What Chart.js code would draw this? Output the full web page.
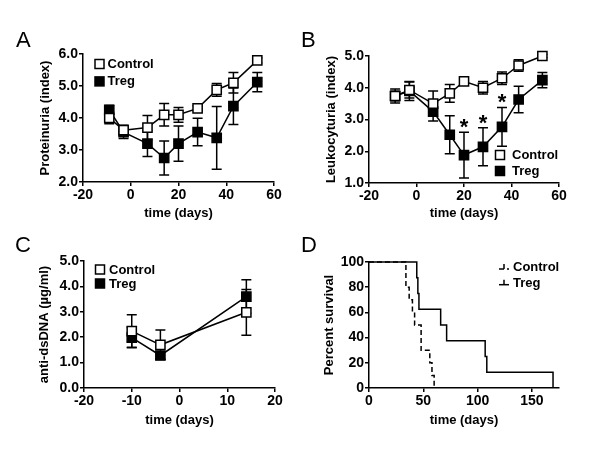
<!DOCTYPE html>
<html>
<head>
<meta charset="utf-8">
<script src="https://cdn.jsdelivr.net/npm/chart.js@4.4.0/dist/chart.umd.min.js"></script>
<style>
  html, body { margin: 0; padding: 0; background: #fff; }
  #wrap { position: relative; width: 600px; height: 460px; font-family: "Liberation Sans", Arial, sans-serif; }
  canvas { position: absolute; }
  .panel-label { position: absolute; font-size: 22px; line-height: 1; color: #000; }
</style>
</head>
<body>
<div id="wrap">
  <canvas id="chartA" width="300" height="230" style="left:0;top:0"></canvas>
  <canvas id="chartB" width="300" height="230" style="left:300px;top:0"></canvas>
  <canvas id="chartC" width="300" height="230" style="left:0;top:230px"></canvas>
  <canvas id="chartD" width="300" height="230" style="left:300px;top:230px"></canvas>
  <div class="panel-label" style="left:16px;top:29px">A</div>
  <div class="panel-label" style="left:301px;top:29px">B</div>
  <div class="panel-label" style="left:15px;top:234px">C</div>
  <div class="panel-label" style="left:301px;top:234px">D</div>
</div>
<script>
// A - proteinuria
const daysA = [-9, -3, 7, 14, 20, 28, 36, 43, 53];
const proteinControl = [4.0, 3.62, 3.7, 4.1, 4.1, 4.3, 4.88, 5.1, 5.8];
const proteinControlSem = [0.18, 0.15, 0.38, 0.35, 0.23, 0.08, 0.2, 0.32, 0.08];
const proteinTreg = [4.25, 3.56, 3.2, 2.75, 3.2, 3.56, 3.38, 4.37, 5.12];
const proteinTregSem = [0.15, 0.2, 0.4, 0.53, 0.55, 0.43, 0.98, 0.57, 0.3];

// B - leukocyturia
const daysB = [-9, -3, 7, 14, 20, 28, 36, 43, 53];
const leukoControl = [3.74, 3.93, 3.5, 3.82, 4.2, 4.0, 4.3, 4.7, 5.0];
const leukoControlSem = [0.15, 0.25, 0.4, 0.28, 0.07, 0.2, 0.2, 0.18, 0.05];
const leukoTreg = [3.74, 3.9, 3.25, 2.52, 1.88, 2.14, 2.77, 3.63, 4.24];
const leukoTregSem = [0.22, 0.3, 0.3, 0.6, 0.72, 0.6, 0.61, 0.42, 0.24];
const leukoSignificantDays = [20, 28, 36];

// C - anti-dsDNA
const daysC = [-10, -4, 14];
const dsdnaControl = [2.24, 1.7, 2.98];
const dsdnaControlSem = [0.64, 0.58, 0.9];
const dsdnaTreg = [1.98, 1.28, 3.6];
const dsdnaTregSem = [0.4, 0.15, 0.66];

// D - survival
const survControlDays = [0, 34, 37, 40, 42, 48, 56, 58, 60];
const survControl = [100, 80, 70, 60, 50, 30, 20, 10, 0];
const survTregDays = [0, 44, 45, 46, 66, 71.5, 107, 108.5, 169.5];
const survTreg = [100, 87.5, 75, 62.5, 50, 37.5, 25, 12.5, 0];

// tick labels
const xTicksAB = [-20, 0, 20, 40, 60];
const yTicksA = [2, 3, 4, 5, 6];
const yTicksB = [1, 2, 3, 4, 5];
const xTicksC = [-20, -10, 0, 10, 20];
const yTicksC = [0, 1, 2, 3, 4, 5];
const xTicksD = [0, 50, 100, 150];
const yTicksD = [0, 20, 40, 60, 80, 100];

const FONT = '"Liberation Sans", Arial, sans-serif';
const W = 300, H = 230;

function toPoints(xs, ys) {
  return xs.map((x, i) => ({ x: x, y: ys[i] }));
}

// error bars drawn right before each dataset so layering follows the lines
const errorBarPlugin = {
  id: 'errorBars',
  beforeDatasetDraw(chart, args) {
    const ds = chart.data.datasets[args.index];
    if (!ds.errors) return;
    const ctx = chart.ctx;
    const xs = chart.scales.x, ys = chart.scales.y;
    ctx.save();
    ctx.strokeStyle = '#000';
    ctx.lineWidth = 1.5;
    ds.data.forEach((p, i) => {
      const px = xs.getPixelForValue(p.x);
      const top = ys.getPixelForValue(p.y + ds.errors[i]);
      const bot = ys.getPixelForValue(p.y - ds.errors[i]);
      ctx.beginPath();
      ctx.moveTo(px, top); ctx.lineTo(px, bot);
      ctx.moveTo(px - 5, top); ctx.lineTo(px + 5, top);
      ctx.moveTo(px - 5, bot); ctx.lineTo(px + 5, bot);
      ctx.stroke();
    });
    ctx.restore();
  }
};

const legendPlugin = {
  id: 'boxLegend',
  afterDraw(chart, args, opts) {
    if (!opts || opts.x == null) return;
    const ctx = chart.ctx;
    ctx.save();
    ctx.font = 'bold 13px ' + FONT;
    ctx.textBaseline = 'middle';
    chart.data.datasets.forEach((ds, i) => {
      const cy = opts.y + i * opts.gap;
      ctx.strokeStyle = '#000';
      ctx.lineWidth = 1.5;
      if (opts.lines) {
        ctx.setLineDash(ds.borderDash || []);
        ctx.beginPath();
        ctx.moveTo(opts.x - 5, cy + 2); ctx.lineTo(opts.x + 5, cy + 2);
        ctx.stroke();
        ctx.setLineDash([]);
        ctx.beginPath();
        ctx.moveTo(opts.x, cy - 3); ctx.lineTo(opts.x, cy + 2);
        ctx.stroke();
      } else {
        ctx.fillStyle = ds.pointBackgroundColor;
        ctx.fillRect(opts.x - 4.5, cy - 4.5, 9, 9);
        ctx.strokeRect(opts.x - 4.5, cy - 4.5, 9, 9);
      }
      ctx.fillStyle = '#000';
      ctx.fillText(ds.label, opts.x + opts.textOffset, cy + 0.5);
    });
    ctx.restore();
  }
};

const starPlugin = {
  id: 'stars',
  afterDatasetsDraw(chart, args, opts) {
    if (!opts || !opts.days) return;
    const ds = chart.data.datasets[opts.dataset];
    const ctx = chart.ctx;
    ctx.save();
    ctx.font = 'bold 22px ' + FONT;
    ctx.textAlign = 'center';
    ctx.textBaseline = 'alphabetic';
    ctx.fillStyle = '#000';
    opts.days.forEach(d => {
      const i = ds.data.findIndex(p => p.x === d);
      const p = ds.data[i];
      const px = chart.scales.x.getPixelForValue(p.x);
      const cap = chart.scales.y.getPixelForValue(p.y + ds.errors[i]);
      ctx.fillText('*', px, cap + 2);
    });
    ctx.restore();
  }
};

function axis(o) {
  const titleSize = 13;
  const lh = titleSize * 1.2;
  const isX = o.dir === 'x';
  return {
    type: 'linear',
    min: o.ticks[0],
    max: o.max != null ? o.max : o.ticks[o.ticks.length - 1],
    afterBuildTicks: s => { s.ticks = o.ticks.map(v => ({ value: v })); },
    afterFit: s => {
      if (isX) s.height = o.size; else s.width = o.size;
    },
    grid: { display: true, drawOnChartArea: false, drawTicks: true, tickLength: 4, color: '#000', lineWidth: 1.5 },
    border: { display: true, color: '#000', width: 1.5 },
    ticks: {
      color: '#000',
      padding: 1,
      font: { family: FONT, size: 14, weight: 'bold' },
      maxRotation: 0,
      autoSkip: false,
      callback: v => o.decimals ? v.toFixed(o.decimals) : String(v)
    },
    title: {
      display: true,
      text: o.title,
      color: '#000',
      font: { family: FONT, size: titleSize, weight: 'bold' },
      padding: isX ? { top: 0, bottom: o.titlePos - lh / 2 } : { top: o.titlePos - lh / 2, bottom: 0 }
    }
  };
}

function buildChart(id, datasets, p) {
  return new Chart(document.getElementById(id), {
    type: 'line',
    data: { datasets: datasets },
    options: {
      responsive: false,
      animation: false,
      events: [],
      layout: { padding: { left: 0, top: p.area.top, right: W - p.area.right, bottom: 0 } },
      plugins: {
        legend: { display: false },
        tooltip: { enabled: false },
        boxLegend: p.legend,
        stars: p.stars || {}
      },
      scales: {
        x: axis({ dir: 'x', ticks: p.xTicks, max: p.xMax, title: 'time (days)', size: H - p.area.bottom, titlePos: H - p.xTitleY }),
        y: axis({ dir: 'y', ticks: p.yTicks, title: p.yTitle, size: p.area.left, titlePos: p.yTitleX, decimals: p.decimals })
      }
    },
    plugins: [errorBarPlugin, legendPlugin, starPlugin]
  });
}

function markerSeries(label, xs, ys, errs, filled) {
  return {
    label: label,
    data: toPoints(xs, ys),
    errors: errs,
    borderColor: '#000',
    borderWidth: 1.5,
    pointStyle: 'rect',
    pointRadius: 6.5,
    pointBorderWidth: 1.5,
    pointBorderColor: '#000',
    pointBackgroundColor: filled ? '#000' : '#fff',
    clip: false
  };
}

buildChart('chartA', [
  markerSeries('Control', daysA, proteinControl, proteinControlSem, false),
  markerSeries('Treg', daysA, proteinTreg, proteinTregSem, true)
], {
  area: { left: 83, top: 54, right: 274, bottom: 182 },
  xTicks: xTicksAB, yTicks: yTicksA, decimals: 1,
  yTitle: 'Proteinuria (index)', yTitleX: 45, xTitleY: 213,
  legend: { x: 99.5, y: 64, gap: 17.4, textOffset: 8 }
});

buildChart('chartB', [
  markerSeries('Control', daysB, leukoControl, leukoControlSem, false),
  markerSeries('Treg', daysB, leukoTreg, leukoTregSem, true)
], {
  area: { left: 69, top: 56, right: 259, bottom: 183 },
  xTicks: xTicksAB, yTicks: yTicksB, decimals: 1,
  yTitle: 'Leukocyturia (index)', yTitleX: 31, xTitleY: 213,
  legend: { x: 200, y: 155, gap: 16, textOffset: 12 },
  stars: { days: leukoSignificantDays, dataset: 1 }
});

buildChart('chartC', [
  markerSeries('Control', daysC, dsdnaControl, dsdnaControlSem, false),
  markerSeries('Treg', daysC, dsdnaTreg, dsdnaTregSem, true)
], {
  area: { left: 84, top: 31, right: 275, bottom: 158 },
  xTicks: xTicksC, yTicks: yTicksC, decimals: 1,
  yTitle: 'anti-dsDNA (µg/ml)', yTitleX: 44, xTitleY: 190,
  legend: { x: 100, y: 39.5, gap: 14, textOffset: 9 }
});

buildChart('chartD', [
  {
    label: 'Control',
    data: toPoints(survControlDays, survControl),
    stepped: 'before',
    borderColor: '#000',
    borderWidth: 1.5,
    borderDash: [5, 3],
    pointRadius: 0,
    clip: false
  },
  {
    label: 'Treg',
    data: toPoints(survTregDays, survTreg),
    stepped: 'before',
    borderColor: '#000',
    borderWidth: 1.5,
    pointRadius: 0,
    clip: false
  }
], {
  area: { left: 69, top: 32, right: 259, bottom: 158 },
  xTicks: xTicksD, xMax: 175, yTicks: yTicksD, decimals: 0,
  yTitle: 'Percent survival', yTitleX: 29, xTitleY: 190,
  legend: { x: 204, y: 37, gap: 15.7, textOffset: 9, lines: true }
});
</script>
</body>
</html>
